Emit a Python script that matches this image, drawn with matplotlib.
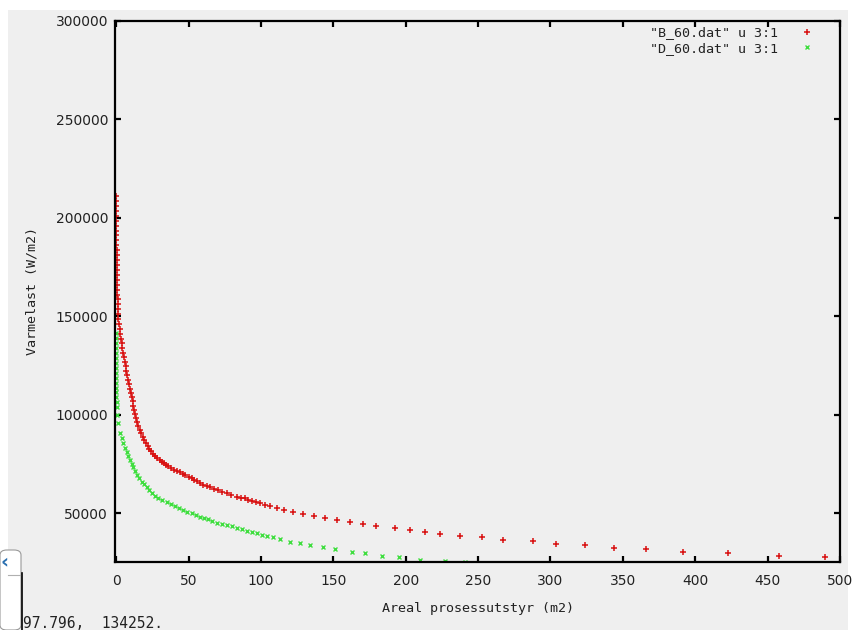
import matplotlib
matplotlib.use("Agg")
import matplotlib.pyplot as plt
from matplotlib.patches import Rectangle, FancyBboxPatch
from matplotlib.lines import Line2D

# ---- data ----
b_x = [0.0, 0.0, 0.1, 0.1, 0.1, 0.1, 0.1, 0.2, 0.2, 0.2, 0.2, 0.3, 0.3, 0.3, 0.3,
       0.4, 0.5, 0.6, 0.7, 0.8, 0.9, 1.0, 1.1, 1.2, 1.3, 1.5, 1.9, 2.4, 2.9, 3.4,
       3.8, 4.3, 4.8, 5.4, 6.1, 6.6, 7.1, 7.6, 8.1, 8.7, 9.3, 10.0, 10.6, 11.3,
       11.9, 12.5, 13.1, 13.8, 14.6, 15.4, 16.3, 17.2, 18.2, 19.3, 20.5, 21.7,
       23.0, 24.3, 25.6, 27.0, 28.5, 30.0, 31.5, 33.0, 34.5, 36.0, 38.0, 40.0,
       42.0, 44.0, 46.0, 47.5, 50.0, 52.1, 54.0, 55.5, 58.0, 60.1, 62.5, 64.7,
       67.5, 70.5, 73.3, 76.3, 79.5, 83.2, 86.0, 88.9, 91.2, 93.5, 96.5, 99.3,
       102.7, 106.2, 110.8, 116.1, 122.3, 129.2, 136.8, 144.1, 152.7, 161.4,
       170.6, 179.8, 192.5, 203.3, 213.2, 224.0, 237.5, 252.4, 267.4, 288.0,
       303.7, 323.7, 344.0, 365.9, 391.6, 422.7, 457.7, 489.5]
b_y = [211000, 208500, 206000, 203500, 201000, 198500, 196000, 193500, 191000,
       188500, 186000, 183500, 181000, 178500, 176000, 173500, 171000, 168500,
       166000, 163500, 161000, 158500, 156000, 153500, 151000, 148500, 146000,
       143500, 141000, 138500, 136200, 133800, 131500, 129200, 127000, 124500,
       122200, 120000, 117800, 115500, 113300, 111000, 109000, 106800, 104600,
       102500, 100500, 98300, 96200, 94200, 92200, 90500, 88600, 87000, 85500,
       84200, 82800, 81500, 80300, 79200, 78100, 77100, 76100, 75300, 74500,
       73800, 72900, 72100, 71500, 71000, 70100, 69400, 68400, 67700, 67000,
       66300, 65200, 64300, 63700, 63100, 62400, 61800, 60900, 60100, 59200,
       58400, 57900, 57500, 56900, 56300, 55700, 55000, 54300, 53600, 52800,
       51600, 50800, 49700, 48700, 47700, 46700, 45600, 44600, 43500, 42600,
       41500, 40600, 39500, 38600, 37900, 36600, 35900, 34500, 33900, 32500,
       31800, 30500, 29800, 28400, 27800]

d_x = [0.0, 0.0, 0.0, 0.0, 0.0, 0.1, 0.1, 0.1, 0.1, 0.1, 0.2, 0.2, 0.2, 0.2,
       0.3, 0.3, 0.8, 1.5, 2.6, 3.7, 4.9, 6.0, 7.2, 8.3, 9.5, 10.6, 11.8, 13.2,
       14.6, 16.1, 17.6, 19.3, 21.0, 22.7, 24.5, 26.8, 29.1, 32.0, 34.9, 37.7,
       40.6, 43.4, 46.3, 49.2, 52.1, 55.0, 57.9, 60.7, 63.6, 66.5, 69.4, 72.9,
       76.3, 79.7, 83.2, 86.7, 90.1, 93.5, 97.0, 100.4, 103.9, 108.5, 113.1,
       120.0, 126.9, 133.8, 143.0, 151.1, 162.6, 171.8, 183.4, 195.5, 209.8,
       227.0, 241.0]
d_y = [141300, 138800, 136300, 133800, 131300, 128800, 126300, 123800, 121300,
       118800, 116300, 113800, 111300, 108800, 106300, 104000, 100000, 95650,
       90560, 88000, 85480, 83300, 81220, 79100, 77000, 75100, 73300, 71300,
       69400, 67700, 66000, 64600, 63150, 61600, 60100, 58800, 57570, 56700,
       55850, 54700, 53660, 52600, 51630, 50800, 49950, 49100, 48240, 47600,
       46920, 46000, 45190, 44600, 44030, 43300, 42660, 41900, 41140, 40500,
       39810, 39200, 38600, 37700, 36760, 35540, 34720, 33850, 32990, 31670,
       30150, 29640, 28420, 27610, 26240, 25600, 25450]

x_ticks = [0, 50, 100, 150, 200, 250, 300, 350, 400, 450, 500]
y_ticks = [50000, 100000, 150000, 200000, 250000, 300000]
label_b = '"B_60.dat" u 3:1'
label_d = '"D_60.dat" u 3:1'
x_label = "Areal prosessutstyr (m2)"
y_label = "Varmelast (W/m2)"
status_text = "97.796,  134252."

GRAY = "#efefef"
RED = "#d81010"
GREEN = "#3ede3e"
MONO = ["DejaVu Sans Mono"]

W, H = 855, 630
fig = plt.figure(figsize=(W / 100, H / 100), dpi=100, facecolor="white")

# gnuplot window background
fig.patches.append(Rectangle((8 / W, 0), (848 - 8) / W, 1 - 10 / H,
                             transform=fig.transFigure, facecolor=GRAY,
                             edgecolor="none", zorder=-10))

ax = fig.add_axes([115 / W, 1 - 561.7 / H, 725 / W, (561.7 - 20.7) / H])
ax.set_facecolor(GRAY)

ax.plot(b_x, b_y, linestyle="none", marker="+", markersize=4.4,
        markeredgewidth=1.1, color=RED, label=label_b, clip_on=True)
ax.plot(d_x, d_y, linestyle="none", marker="x", markersize=3.4,
        markeredgewidth=1.0, color=GREEN, label=label_d, clip_on=True)

ax.set_xlim(-0.8, 500)
ax.set_ylim(25400, 300000)
ax.set_xticks(x_ticks)
ax.set_yticks(y_ticks)
ax.set_xticklabels([str(t) for t in x_ticks])
ax.set_yticklabels([str(t) for t in y_ticks])

for s in ax.spines.values():
    s.set_linewidth(1.6)
    s.set_color("black")
ax.tick_params(direction="in", length=4.5, width=1.6, top=True, right=True,
               labelsize=10, colors="black")
ax.tick_params(axis="x", pad=9)
ax.tick_params(axis="y", pad=5)
for lab in ax.get_xticklabels() + ax.get_yticklabels():
    lab.set_color("#222222")

ax.set_xlabel(x_label, family=MONO, fontsize=9.6, labelpad=10, color="#222222")
ax.set_ylabel(y_label, family=MONO, fontsize=9.6, labelpad=12, color="#222222")

leg = ax.legend(loc="upper right", bbox_to_anchor=(0.982, 1.012),
                frameon=False, markerfirst=False, numpoints=1,
                handlelength=1.2, handletextpad=1.6, labelspacing=0.2,
                prop={"family": MONO, "size": 9.6})
for t in leg.get_texts():
    t.set_color("#222222")

# bottom-left window widget and status text
fig.patches.append(FancyBboxPatch((0 / W, 0), 21 / W, (630 - 550) / H,
                                  boxstyle="round,pad=0,rounding_size=0.008",
                                  transform=fig.transFigure, facecolor="white",
                                  edgecolor="#9a9a9a", linewidth=0.8, zorder=5))
fig.lines.append(Line2D([21.5 / W, 21.5 / W], [0, 1 - 573 / H],
                        transform=fig.transFigure, color="black",
                        linewidth=1.2, zorder=6))
fig.lines.append(Line2D([8 / W, 20 / W], [1 - 575 / H, 1 - 575 / H],
                        transform=fig.transFigure, color="#b0b0b0",
                        linewidth=0.8, zorder=6))
fig.text(5 / W, 1 - 562 / H, "\u2039", fontsize=14, fontweight="bold",
         color="#2a6fb0", ha="center", va="center", zorder=7)
fig.text(23 / W, 1 - 624 / H, status_text, family=MONO, fontsize=10.5,
         color="#222222", ha="left", va="center")

fig.savefig("out.png", dpi=100, facecolor="white")
